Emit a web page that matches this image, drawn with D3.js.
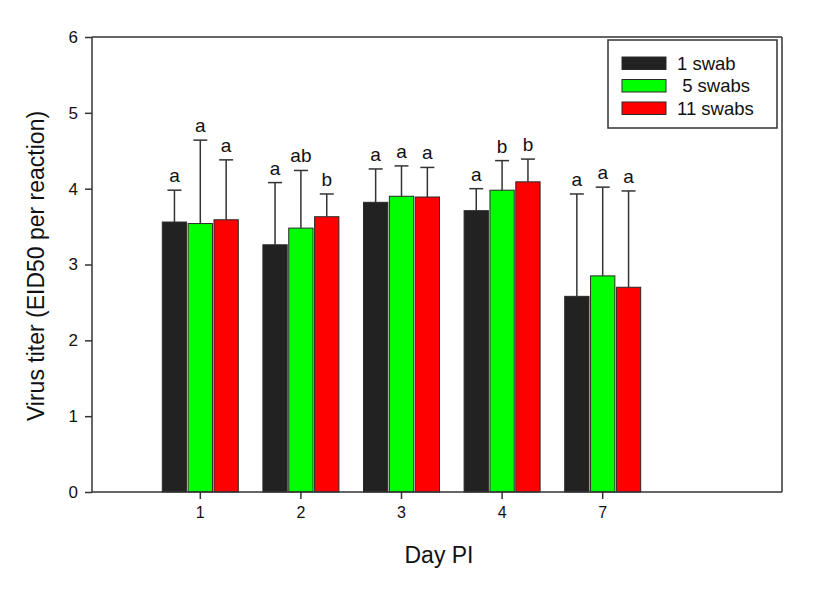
<!DOCTYPE html>
<html><head><meta charset="utf-8">
<script src="https://cdn.jsdelivr.net/npm/d3@7"></script>
<style>body{margin:0;background:#fff;}svg{display:block;font-family:Arial,"Liberation Sans",sans-serif;}</style>
</head><body>
<script>
const days = ["1","2","3","4","7"];
const seriesNames = ["1 swab", " 5 swabs", "11 swabs"];
const seriesColors = ["#222222", "#00ff00", "#ff0000"];
const means = [
  [3.56, 3.26, 3.82, 3.71, 2.58],
  [3.54, 3.48, 3.90, 3.98, 2.85],
  [3.59, 3.63, 3.89, 4.09, 2.70]
];
const errTops = [
  [3.98, 4.08, 4.26, 4.00, 3.93],
  [4.64, 4.24, 4.30, 4.37, 4.02],
  [4.38, 3.93, 4.28, 4.39, 3.97]
];
const letters = [
  ["a","a","a","a","a"],
  ["a","ab","a","b","a"],
  ["a","b","a","b","a"]
];
const yTicks = [0,1,2,3,4,5,6];

(function(){
const W = 826, H = 593;
const svg = d3.select("body").append("svg").attr("width", W).attr("height", H);
const pL = 92, pR = 782, pT = 37, pB = 492;

const y = d3.scaleLinear().domain([0,6]).range([pB, pT]);
const x = d3.scaleBand().domain(days).range([150, 653]).paddingInner(0).paddingOuter(0);
const xs = d3.scaleBand().domain(d3.range(3)).range([0, 76]).paddingInner(0.06).paddingOuter(0);
const bw = x.bandwidth();
const gOff = (bw - 76) / 2;

// frame
svg.append("line").attr("x1", pL).attr("x2", pR).attr("y1", pT).attr("y2", pT).attr("stroke", "#333").attr("stroke-width", 1.5);
svg.append("line").attr("x1", pR).attr("x2", pR).attr("y1", pT).attr("y2", pB).attr("stroke", "#333").attr("stroke-width", 1.5);

// bars
for (let s = 0; s < 3; s++) {
  const g = svg.append("g");
  days.forEach((d, i) => {
    const bx = x(d) + gOff + xs(s);
    const w = xs.bandwidth();
    const cx = bx + w / 2;
    g.append("rect").attr("x", bx).attr("y", y(means[s][i])).attr("width", w)
      .attr("height", y(0) - y(means[s][i])).attr("fill", seriesColors[s])
      .attr("stroke", "#2a2a2a").attr("stroke-width", 1);
    g.append("line").attr("x1", cx).attr("x2", cx).attr("y1", y(means[s][i])).attr("y2", y(errTops[s][i]))
      .attr("stroke", "#333").attr("stroke-width", 1.5);
    g.append("line").attr("x1", cx - 7).attr("x2", cx + 7).attr("y1", y(errTops[s][i])).attr("y2", y(errTops[s][i]))
      .attr("stroke", "#333").attr("stroke-width", 1.5);
    g.append("text").attr("x", cx).attr("y", y(errTops[s][i]) - 8).attr("text-anchor", "middle")
      .attr("font-size", 19).attr("fill", "#111").text(letters[s][i]);
  });
}

// axes
const yAxis = d3.axisLeft(y).tickValues(yTicks).tickSize(7).tickPadding(7).tickFormat(d3.format("d"));
const ya = svg.append("g").attr("transform", `translate(${pL},0)`).call(yAxis);
ya.select(".domain").attr("stroke", "#333").attr("stroke-width", 1.5).attr("d", `M0,${pT}V${pB}`);
ya.selectAll(".tick line").attr("stroke", "#333").attr("stroke-width", 1.5);
ya.selectAll(".tick text").attr("font-size", 17).attr("fill", "#111").attr("font-family", "Arial,'Liberation Sans',sans-serif");

const xAxis = d3.axisBottom(x).tickSize(7).tickPadding(8);
const xa = svg.append("g").attr("transform", `translate(0,${pB})`).call(xAxis);
xa.select(".domain").attr("stroke", "#333").attr("stroke-width", 1.5).attr("d", `M${pL},0H${pR}`);
xa.selectAll(".tick line").attr("stroke", "#333").attr("stroke-width", 1.5);
xa.selectAll(".tick text").attr("font-size", 16).attr("fill", "#111").attr("font-family", "Arial,'Liberation Sans',sans-serif");

// axis titles
svg.append("text").attr("x", 439).attr("y", 563).attr("text-anchor", "middle").attr("font-size", 23).attr("fill", "#111").text("Day PI");
svg.append("text").attr("transform", `translate(44,266) rotate(-90)`).attr("text-anchor", "middle").attr("font-size", 23).attr("fill", "#111").text("Virus titer (EID50 per reaction)");

// legend
const lg = svg.append("g");
lg.append("rect").attr("x", 608).attr("y", 40).attr("width", 169).attr("height", 88).attr("fill", "#fff").attr("stroke", "#333").attr("stroke-width", 1.5);
seriesNames.forEach((n, i) => {
  const yy = 57 + i * 22.5;
  lg.append("rect").attr("x", 622).attr("y", yy).attr("width", 44).attr("height", 12.5).attr("fill", seriesColors[i]).attr("stroke", "#2a2a2a").attr("stroke-width", 1);
  lg.append("text").attr("x", 677).attr("y", yy + 12.5).attr("font-size", 18.5).attr("fill", "#111").style("white-space", "pre").text(n);
});
})();
</script>
</body></html>
